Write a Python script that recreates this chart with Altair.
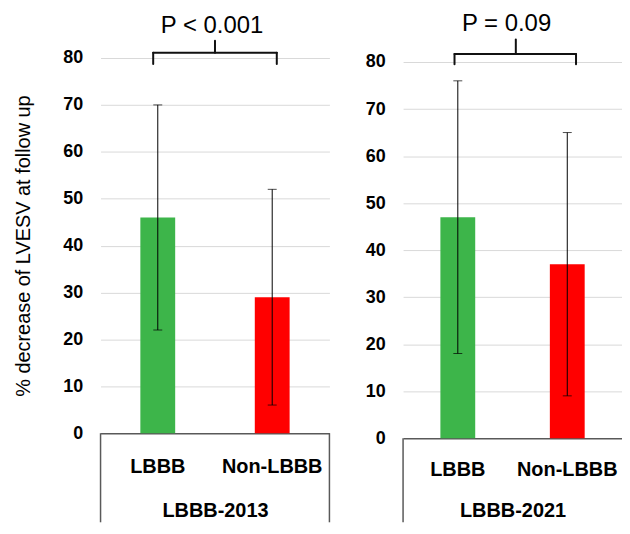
import altair as alt
import pandas as pd

FONT = "Liberation Sans"

categories = ["LBBB", "Non-LBBB"]
groups = ["LBBB-2013", "LBBB-2021"]
p_labels = ["P < 0.001", "P = 0.09"]
bar_colors = ["#3DB54A", "#FF0000"]

means_2013 = [46, 29]
lows_2013 = [22, 6]
highs_2013 = [70, 52]

means_2021 = [47, 37]
lows_2021 = [18, 9]
highs_2021 = [76, 65]

# bracket levels (in y-axis units) for each panel
bracket_level = [81.1, 81.7]
bracket_end = [78.7, 79.5]
bracket_top = [83.7, 84.8]
frame_bottom = [-19.0, -17.9]
y_max = [80, 80.85]
panel_height = [377, 382]
panel_width = [230, 215]
band_range = [230, 220]
bracket_left_bp = [0.46, 0.47]
bracket_right_bp = [0.54, 0.58]
notch_bp = [0.0, 0.03]
label_pad = [24, 22]
title_pad = [24, 21]
title_dx = [-3, -3.5]

y_ticks = [0, 10, 20, 30, 40, 50, 60, 70, 80]
y_title = "% decrease of LVESV at follow up"

panel_data = [
    (means_2013, lows_2013, highs_2013),
    (means_2021, lows_2021, highs_2021),
]

axis_line = {"condition": {"test": "datum.value === 0", "value": "#595959"}, "value": "#D9D9D9"}
axis_line_w = {"condition": {"test": "datum.value === 0", "value": 1.5}, "value": 1}


def panel(i, show_ytitle, right_line):
    g = groups[i]
    m, lo, hi = panel_data[i]
    df = pd.DataFrame({"cat": categories, "mean": m, "lo": lo, "hi": hi})

    xscale = alt.Scale(domain=categories, paddingInner=0, paddingOuter=0,
                       range=[0, band_range[i]])
    xaxis = alt.Axis(
        labelAngle=0, labelFont=FONT, labelFontSize=20, labelFontWeight="bold",
        labelColor="black", labelPadding=label_pad[i], ticks=False, grid=False,
        domain=False,
        titleFont=FONT, titleFontSize=20, titleFontWeight="bold",
        titleColor="black", titlePadding=title_pad[i],
    )
    yscale = alt.Scale(domain=[0, y_max[i]], nice=False)
    yaxis = alt.Axis(
        values=y_ticks, labelFont=FONT, labelFontSize=18, labelFontWeight="bold",
        labelColor="black", labelPadding=18, ticks=False, domain=False,
        gridColor=axis_line, gridWidth=axis_line_w,
        titleFont=FONT, titleFontSize=20, titleFontWeight="normal",
        titleColor="black", titlePadding=29,
    )
    yt = y_title if show_ytitle else None

    def X(field, bp=0.5):
        return alt.X(field, type="nominal", scale=xscale, sort=categories,
                     axis=xaxis, title=g, bandPosition=bp)

    def Y(field):
        return alt.Y(field, type="quantitative", scale=yscale, axis=yaxis, title=yt)

    bars = alt.Chart(df).mark_bar(width=35).encode(
        x=X("cat"), y=Y("mean"),
        color=alt.Color("cat:N", scale=alt.Scale(domain=categories, range=bar_colors), legend=None),
    )
    err = alt.Chart(df).mark_rule(color="black", strokeWidth=1).encode(
        x=X("cat"), y=Y("lo"), y2="hi:Q"
    )
    cap_lo = alt.Chart(df).mark_tick(color="black", size=9, thickness=1).encode(
        x=X("cat"), y=Y("lo")
    )
    cap_hi = alt.Chart(df).mark_tick(color="black", size=9, thickness=1).encode(
        x=X("cat"), y=Y("hi")
    )

    bdf = pd.DataFrame({
        "a": [categories[0]], "b": [categories[1]],
        "h": [bracket_level[i]], "e": [bracket_end[i]], "t": [bracket_top[i]],
        "f0": [0], "f1": [frame_bottom[i]],
    })
    bstyle = dict(color="#111111", strokeWidth=2, strokeCap="round")
    horiz = alt.Chart(bdf).mark_rule(**bstyle).encode(
        x=X("a", bracket_left_bp[i]),
        x2=alt.X2("b", bandPosition=bracket_right_bp[i]), y=Y("h")
    )
    left_end = alt.Chart(bdf).mark_rule(**bstyle).encode(
        x=X("a", bracket_left_bp[i]), y=Y("e"), y2="h:Q"
    )
    right_end = alt.Chart(bdf).mark_rule(**bstyle).encode(
        x=X("b", bracket_right_bp[i]), y=Y("e"), y2="h:Q"
    )
    notch = alt.Chart(bdf).mark_rule(**bstyle).encode(
        x=X("b", notch_bp[i]), y=Y("h"), y2="t:Q"
    )
    fstyle = dict(color="#595959", strokeWidth=1.5)
    frame_l = alt.Chart(bdf).mark_rule(**fstyle).encode(
        x=X("a", 0.0), y=Y("f0"), y2="f1:Q"
    )
    layers = [bars, err, cap_lo, cap_hi, horiz, left_end, right_end, notch, frame_l]
    if right_line:
        frame_r = alt.Chart(bdf).mark_rule(**fstyle).encode(
            x=X("b", 1.0), y=Y("f0"), y2="f1:Q"
        )
        layers.append(frame_r)

    return alt.layer(*layers).properties(
        width=panel_width[i], height=panel_height[i],
        title=alt.TitleParams(
            text=p_labels[i], font=FONT, fontSize=24, fontWeight="normal",
            color="black", anchor="middle", frame="group", offset=2, dx=title_dx[i],
        ),
    )


left = panel(0, True, True)
right = panel(1, False, False)

chart = alt.hconcat(left, right, spacing=34).properties(
    padding={"left": 5, "top": 3, "right": 0, "bottom": 0}
).configure_view(stroke=None)

chart.save("out.html", embed_options={"renderer": "svg", "actions": False})
